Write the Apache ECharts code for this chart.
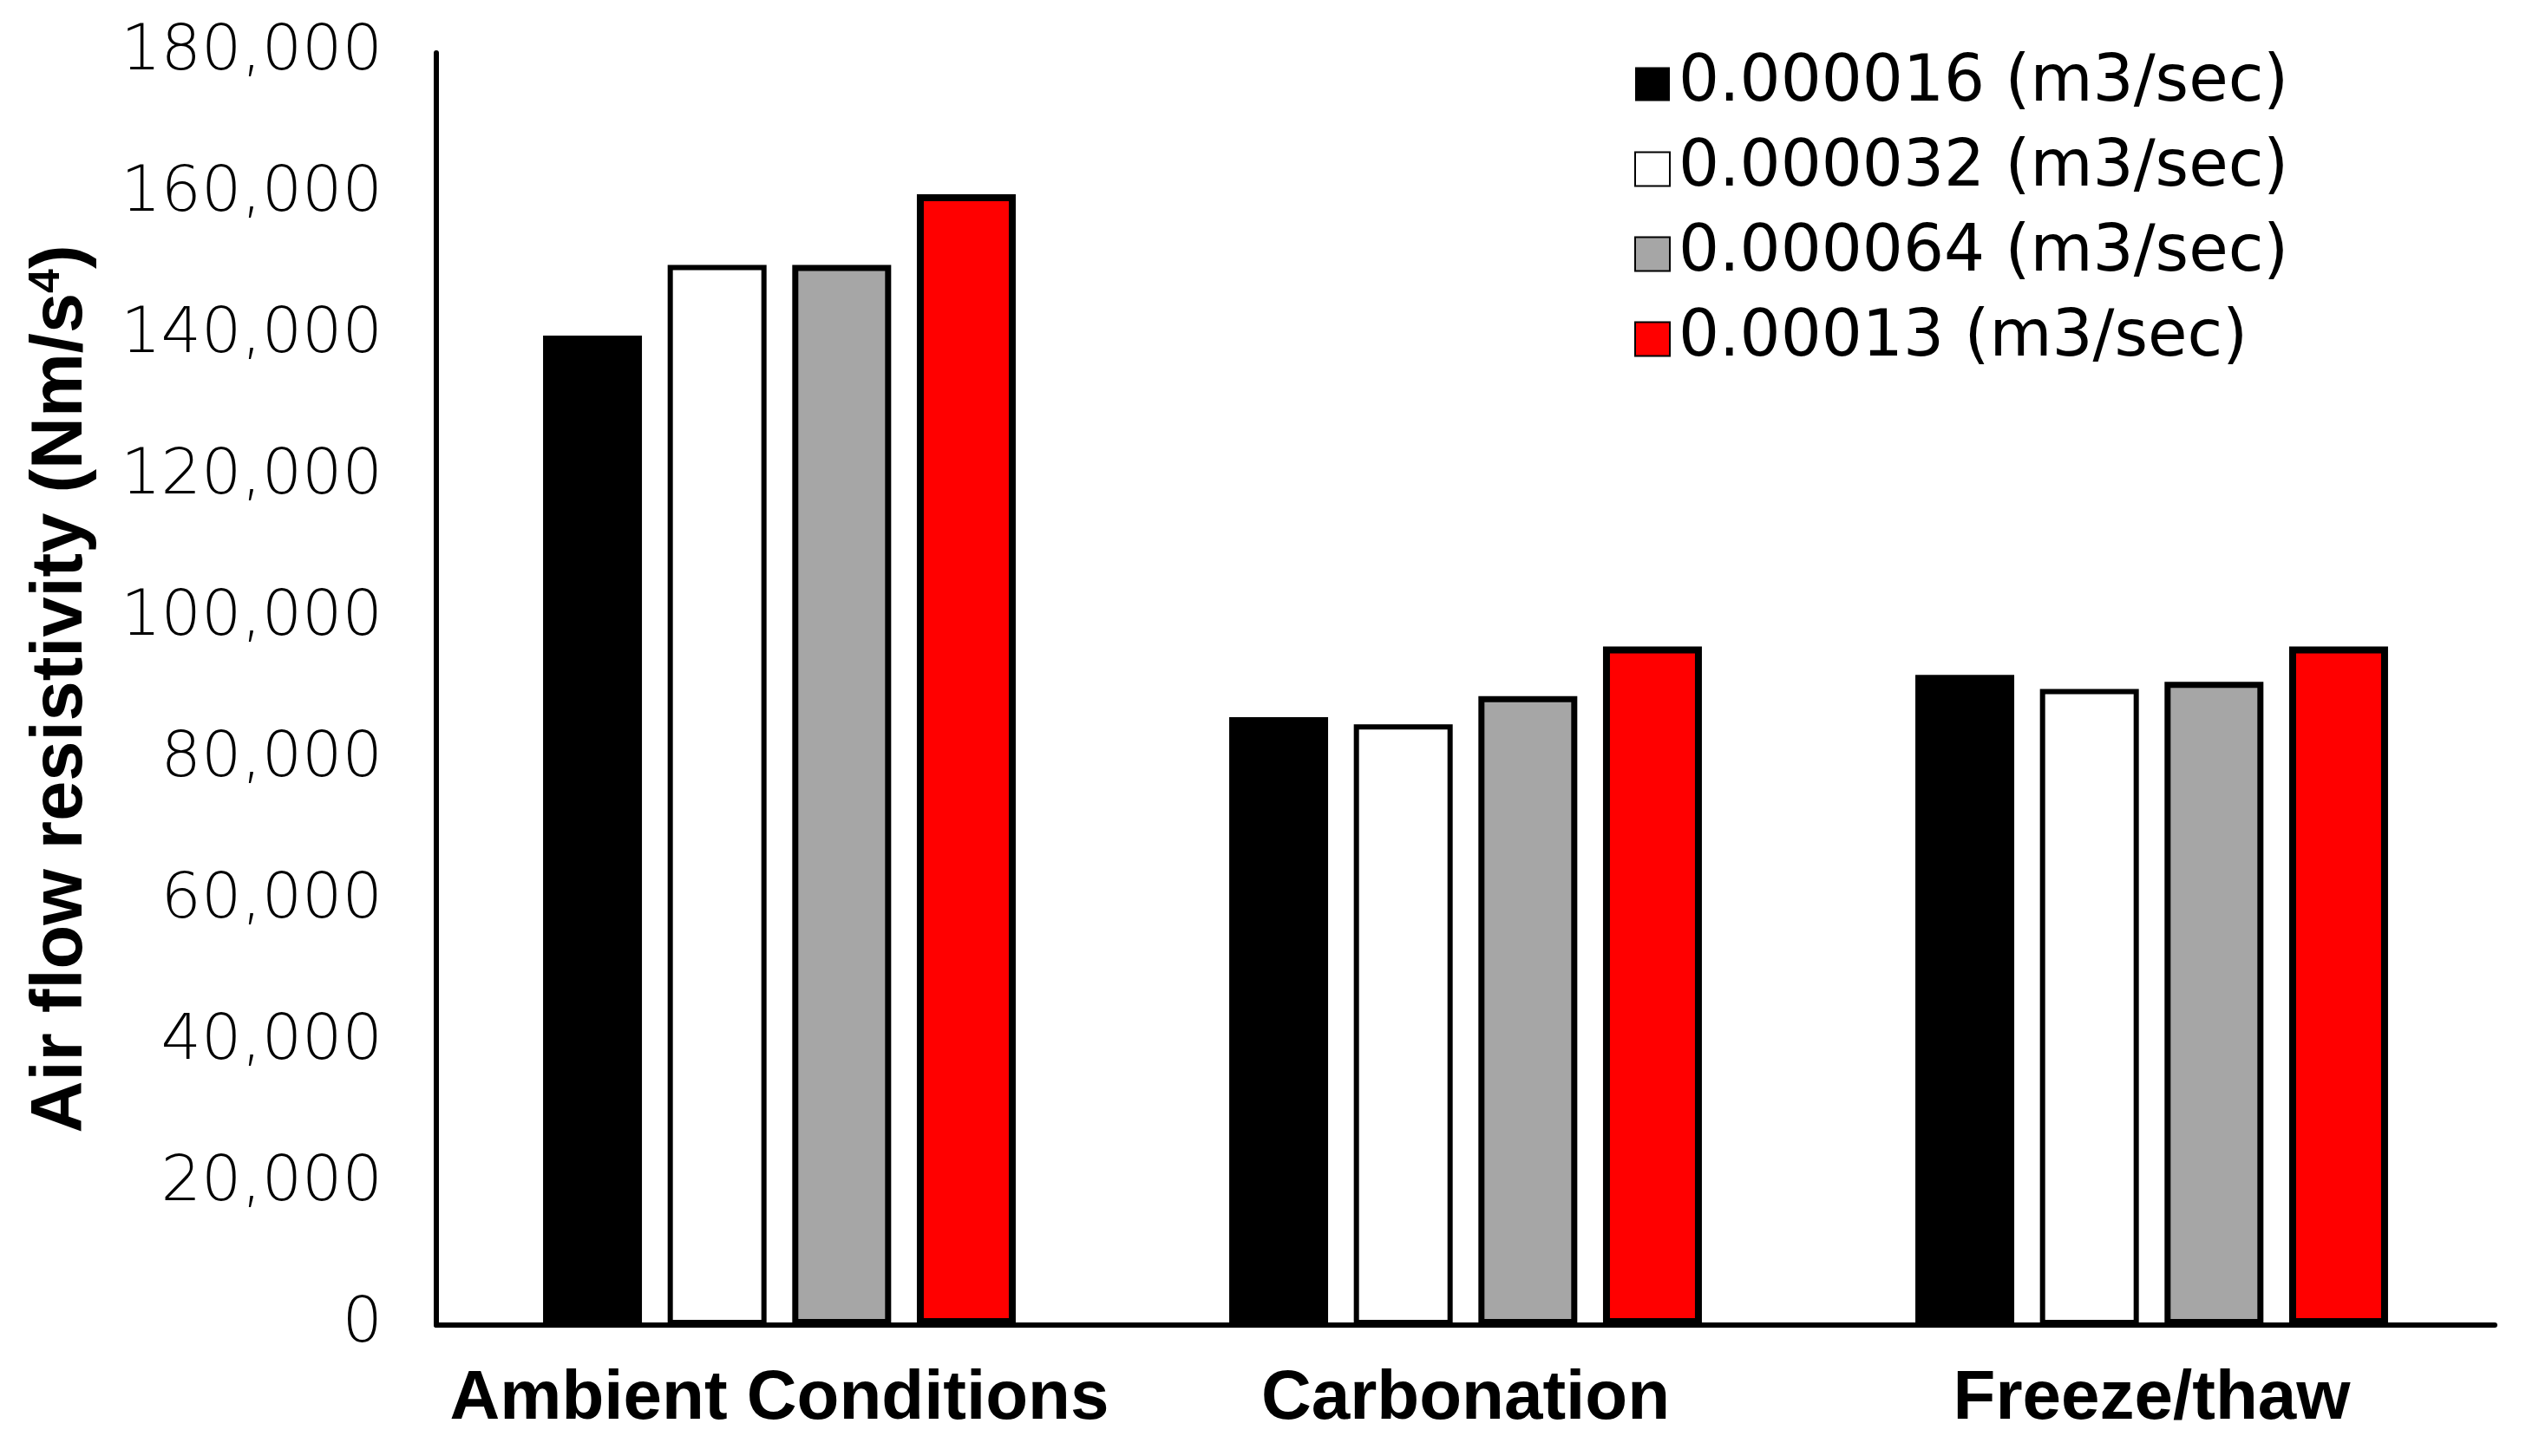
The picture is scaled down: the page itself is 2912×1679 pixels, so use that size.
<!DOCTYPE html>
<html>
<head>
<meta charset="utf-8">
<script src="https://cdn.jsdelivr.net/npm/echarts@6/dist/echarts.min.js"></script>
<style>
html,body{margin:0;padding:0;background:#fff;}
#chart{width:2912px;height:1679px;}
</style>
</head>
<body>
<div id="chart"></div>
<script>
const categories = ['Ambient Conditions', 'Carbonation', 'Freeze/thaw'];
const seriesNames = ['0.000016 (m3/sec)', '0.000032 (m3/sec)', '0.000064 (m3/sec)', '0.00013 (m3/sec)'];
const flow016 = [140000, 86000, 92000];
const flow032 = [150000, 85000, 90000];
const flow064 = [150000, 89000, 91000];
const flow13 = [160000, 96000, 96000];
const yMin = 0, yMax = 180000, yStep = 20000;

const chart = echarts.init(document.getElementById('chart'));
function fmt(v){ return String(v).replace(/\B(?=(\d{3})+(?!\d))/g, ','); }
const styles = [
  {color:'#000000', borderColor:'#000000', borderWidth:0},
  {color:'#ffffff', borderColor:'#000000', borderWidth:6},
  {color:'#a6a6a6', borderColor:'#000000', borderWidth:7},
  {color:'#ff0000', borderColor:'#000000', borderWidth:8}
];
const values = [flow016, flow032, flow064, flow13];
chart.setOption({
  animation:false,
  backgroundColor:'#ffffff',
  grid:{left:503, right:36, top:61, bottom:151, containLabel:false},
  legend:{
    orient:'vertical', left:1879, top:52,
    icon:'rect',
    itemWidth:40, itemHeight:39, itemGap:18,
    textStyle:{fontFamily:"'DejaVu Sans', sans-serif", fontSize:74, lineHeight:80, color:'#000', padding:[0,0,0,5]},
    data: seriesNames
  },
  xAxis:{
    type:'category', data:categories,
    axisLine:{lineStyle:{color:'#000', width:6}},
    axisTick:{show:false},
    axisLabel:{interval:0, fontFamily:"'Liberation Sans', Arial, sans-serif", fontWeight:'bold', fontSize:80, lineHeight:80, color:'#000', margin:46}
  },
  yAxis:{
    type:'value', min:yMin, max:yMax, interval:yStep,
    axisLine:{show:true, lineStyle:{color:'#000', width:6}},
    axisTick:{show:false},
    splitLine:{show:false},
    axisLabel:{formatter:fmt, fontFamily:"'DejaVu Sans', sans-serif", fontWeight:200, fontSize:73, color:'#000', margin:62},
    name:'Air flow resistivity (Nm/s{sup|4})',
    nameLocation:'middle', nameRotate:90, nameGap:390,
    nameTextStyle:{fontFamily:"'Liberation Sans', Arial, sans-serif", fontWeight:'bold', fontSize:83, color:'#000',
      rich:{sup:{fontFamily:"'Liberation Sans', Arial, sans-serif", fontWeight:'bold', fontSize:50, verticalAlign:'top', padding:[0,0,34,0], color:'#000'}}}
  },
  series: seriesNames.map((n,i)=>({
    name:n, type:'bar', data:values[i], barWidth:114, barGap:'26%',
    itemStyle:styles[i]
  }))
});
</script>
</body>
</html>
